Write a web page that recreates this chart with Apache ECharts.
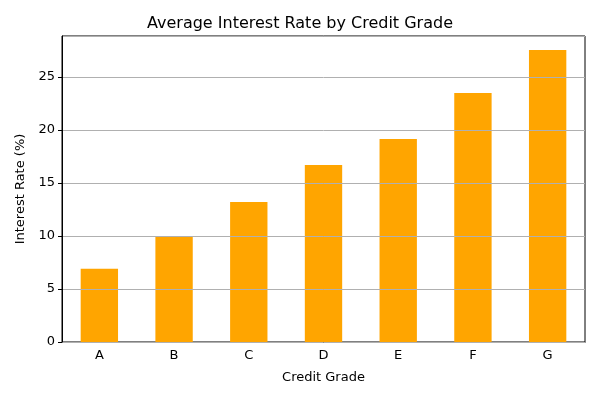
<!DOCTYPE html>
<html>
<head>
<meta charset="utf-8">
<script src="https://cdn.jsdelivr.net/npm/echarts@6/dist/echarts.min.js"></script>
<style>html,body{margin:0;padding:0;background:#fff}#chart{width:600px;height:400px}</style>
</head>
<body>
<div id="chart"></div>
<script>
const grades = ['A', 'B', 'C', 'D', 'E', 'F', 'G'];
const rates = [6.9, 9.9, 13.2, 16.7, 19.15, 23.5, 27.55];
const yTicks = [0, 5, 10, 15, 20, 25];

const font = 'DejaVu Sans';
const chart = echarts.init(document.getElementById('chart'));
chart.setOption({
    animation: false,
    textStyle: { fontFamily: font },
    title: {
        text: 'Average Interest Rate by Credit Grade',
        left: 'center',
        top: 11,
        textStyle: { fontFamily: font, fontSize: 16, fontWeight: 'normal', color: '#000' }
    },
    grid: {
        left: 62, right: 15, top: 36, bottom: 58,
        show: true, borderColor: '#000', borderWidth: 1, backgroundColor: 'transparent'
    },
    xAxis: {
        type: 'category',
        data: grades,
        name: 'Credit Grade',
        nameLocation: 'middle',
        nameGap: 29,
        nameTextStyle: { fontFamily: font, fontSize: 13, color: '#000' },
        axisLine: { lineStyle: { color: '#000' } },
        axisTick: { alignWithLabel: true, length: 4, lineStyle: { color: '#000' } },
        axisLabel: { fontFamily: font, fontSize: 13, color: '#000', margin: 7 }
    },
    yAxis: {
        type: 'value',
        min: 0,
        max: 28.87,
        interval: 5,
        z: 3,
        name: 'Interest Rate (%)',
        nameLocation: 'middle',
        nameGap: 34,
        nameTextStyle: { fontFamily: font, fontSize: 13, color: '#000' },
        axisLine: { show: true, lineStyle: { color: '#000' } },
        axisTick: { show: true, length: 4, lineStyle: { color: '#000' } },
        axisLabel: {
            fontFamily: font, fontSize: 13, color: '#000', margin: 7,
            showMaxLabel: false,
            formatter: v => yTicks.includes(v) ? String(v) : ''
        },
        splitLine: { show: true, lineStyle: { color: '#b0b0b0', width: 1 } }
    },
    series: [{
        type: 'bar',
        data: rates,
        barWidth: '50%',
        itemStyle: { color: '#FFA500' }
    }]
});
</script>
</body>
</html>
